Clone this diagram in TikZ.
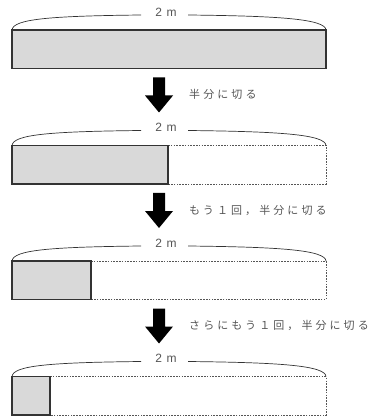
\documentclass[tikz,border=0pt]{standalone}
\usepackage{fontspec}
\setmainfont{Liberation Sans}
\newfontfamily\jpfont[LetterSpace=28]{Noto Sans CJK JP}
\definecolor{barfill}{HTML}{D9D9D9}
\definecolor{edge}{HTML}{333333}
\definecolor{txt}{HTML}{555555}
\tikzset{
  solidbar/.style={draw=edge, fill=barfill, line width=1.2pt},
  dotbar/.style={draw=txt, line width=0.8pt, dash pattern=on 1.6pt off 1.2pt},
  bracel/.style={draw=edge, line width=0.7pt},
  lenlabel/.style={text=txt, font=\fontsize{12}{13}\selectfont, inner sep=0pt},
  steplabel/.style={text=txt, font=\jpfont\fontsize{11}{12}\selectfont, anchor=west, inner sep=0pt},
  bigarrow/.style={fill=black, draw=none}
}
\begin{document}
\begin{tikzpicture}[x=1pt,y=-1pt]
\useasboundingbox (0,0) rectangle (376,419);
% bars: top y, right x of gray part
\foreach \t/\g/\i in {30/326/1, 145.5/168/2, 261/91/3, 376.5/50/4}{
  \pgfmathsetmacro{\b}{\t+38.5}
  \ifnum\i>1
    \draw[dotbar] (\g,\t) -- (326,\t) -- (326,\b) -- (\g,\b);
  \fi
  \draw[solidbar] (12,\t) rectangle (\g,\b);
  % brace-like arc
  \draw[bracel] (12,\t) .. controls (13,\t-11) and (50,\t-14) .. (141,\t-15);
  \draw[bracel] (188,\t-15) .. controls (280,\t-14) and (325,\t-11) .. (326,\t);
  \node[lenlabel] (len\i) at (166,\t-18) {2\hspace{4.5pt}m};
}
% arrows
\foreach \t/\i in {145.5/1, 261/2, 376.5/3}{
  \fill[bigarrow] (153,\t-68) -- (165,\t-68) -- (165,\t-50) -- (173,\t-50)
     -- (159,\t-33) -- (145,\t-50) -- (153,\t-50) -- cycle;
}
\node[steplabel] (s1) at (189,94.5) {半分に切る};
\node[steplabel] (s2) at (189,210) {もう１回，半分に切る};
\node[steplabel] (s3) at (189,325) {さらにもう１回，半分に切る};
\end{tikzpicture}
\end{document}
